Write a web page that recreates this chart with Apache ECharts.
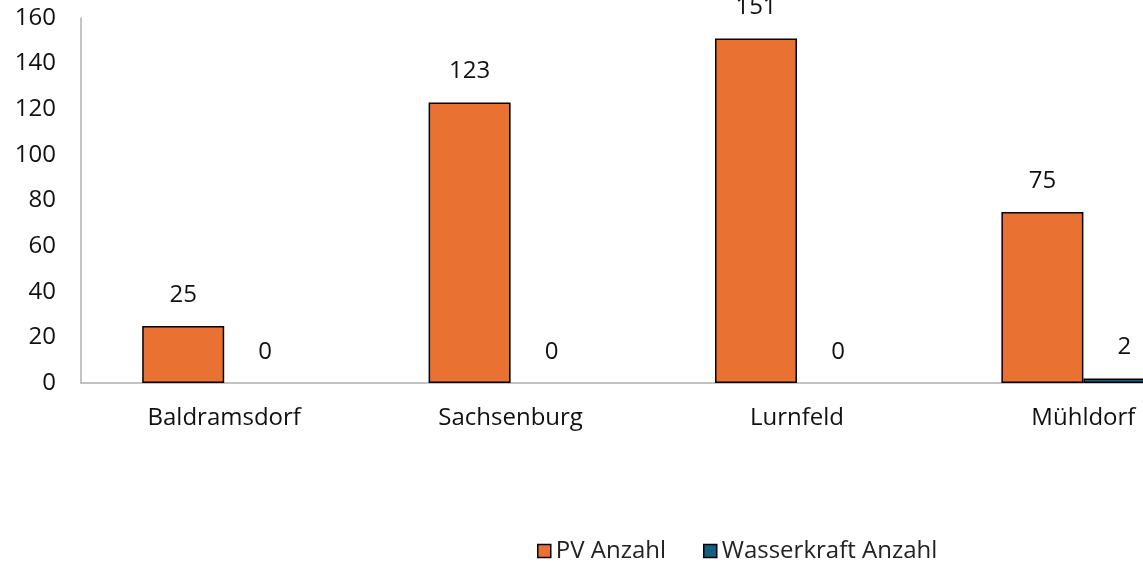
<!DOCTYPE html>
<html>
<head>
<meta charset="utf-8">
<script src="https://cdn.jsdelivr.net/npm/echarts@6/dist/echarts.min.js"></script>
<style>html,body{margin:0;padding:0;background:#fff;overflow:hidden;width:1143px;height:563px;}#c{width:1240px;height:563px;}</style>
</head>
<body>
<div id="c"></div>
<script>
var categories = ["Baldramsdorf", "Sachsenburg", "Lurnfeld", "Mühldorf"];
var pvAnzahl = [25, 123, 151, 75];
var wasserkraftAnzahl = [0, 0, 0, 2];
var yTicks = [0, 20, 40, 60, 80, 100, 120, 140, 160];

function toItems(arr) {
  return arr.map(function (v) {
    return v === 0 ? {value: v, itemStyle: {borderWidth: 0}} : {value: v};
  });
}

var FONT = '"Open Sans", "Noto Sans", sans-serif';
var chart = echarts.init(document.getElementById('c'), null, {renderer: 'canvas'});
chart.setOption({
  animation: false,
  textStyle: {fontFamily: FONT},
  grid: {left: 81, top: 18, width: 1145.6, height: 365, containLabel: false},
  legend: {
    left: 532, top: 534,
    itemWidth: 13, itemHeight: 13, itemGap: 37,
    icon: 'rect',
    textStyle: {fontSize: 24, color: '#222', fontFamily: FONT},
    data: [
      {name: 'PV Anzahl', itemStyle: {borderColor: '#000', borderWidth: 1.5}},
      {name: 'Wasserkraft Anzahl', itemStyle: {borderColor: '#000', borderWidth: 1.5}}
    ]
  },
  xAxis: {
    type: 'category',
    data: categories,
    axisLine: {lineStyle: {color: '#b0b0b0', width: 1.5}},
    axisTick: {show: false},
    axisLabel: {fontSize: 24, color: '#111', margin: 23, fontFamily: FONT}
  },
  yAxis: {
    type: 'value',
    min: yTicks[0], max: yTicks[yTicks.length - 1], interval: 20,
    axisLine: {show: true, lineStyle: {color: '#b0b0b0', width: 1.5}},
    axisTick: {show: false},
    splitLine: {show: false},
    axisLabel: {fontSize: 24, color: '#111', margin: 25, fontFamily: FONT}
  },
  series: [
    {
      name: 'PV Anzahl', type: 'bar', data: toItems(pvAnzahl),
      barWidth: 82, barGap: '0%',
      itemStyle: {color: '#E97132', borderColor: '#000', borderWidth: 1.5},
      label: {show: true, position: 'top', distance: 19, fontSize: 24, color: '#111', fontFamily: FONT}
    },
    {
      name: 'Wasserkraft Anzahl', type: 'bar', data: toItems(wasserkraftAnzahl),
      barWidth: 82, barGap: '0%',
      itemStyle: {color: '#156082', borderColor: '#000', borderWidth: 1.5},
      label: {show: true, position: 'top', distance: 19, fontSize: 24, color: '#111', fontFamily: FONT}
    }
  ]
});
</script>
</body>
</html>
